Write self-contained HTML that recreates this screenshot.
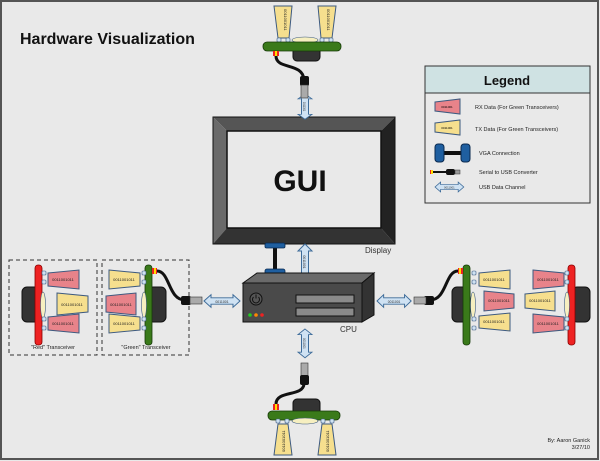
<!DOCTYPE html>
<html><head><meta charset="utf-8"><style>
html,body{margin:0;padding:0;background:#e9e9e9;}
svg{display:block;font-family:"Liberation Sans",sans-serif;}
</style></head><body>
<svg width="600" height="461" viewBox="0 0 600 461" xmlns="http://www.w3.org/2000/svg">
<defs>
<g id="arrH">
<polygon points="0,0 7,-7 7,-3.5 29,-3.5 29,-7 36,0 29,7 29,3.5 7,3.5 7,7" fill="#cfe2f3" stroke="#3d6b99" stroke-width="1"/>
<text x="18" y="2" font-size="3.5" text-anchor="middle" fill="#333">0011001</text>
</g>
</defs>
<rect x="1" y="1" width="597" height="458" fill="#e9e9e9" stroke="#555" stroke-width="2"/>
<text x="20" y="44" font-size="16" font-weight="bold" fill="#111">Hardware Visualization</text>

<!-- Monitor -->
<polygon points="213,117 395,117 381,131 227,131" fill="#555"/>
<polygon points="213,117 227,131 227,228 213,244" fill="#6a6a6a"/>
<polygon points="395,117 395,244 381,228 381,131" fill="#222"/>
<polygon points="213,244 395,244 381,228 227,228" fill="#333"/>
<rect x="213" y="117" width="182" height="127" fill="none" stroke="#111" stroke-width="1"/>
<rect x="227" y="131" width="154" height="97" fill="#e9e9e9" stroke="#111" stroke-width="1.5"/>
<text x="300" y="191" font-size="30" font-weight="bold" text-anchor="middle" fill="#111">GUI</text>
<text x="365" y="253" font-size="8" fill="#333">Display</text>

<!-- VGA -->
<rect x="273" y="246" width="4" height="24" fill="#111"/>
<rect x="265" y="243" width="20" height="5" rx="1.5" fill="#1f5fa0" stroke="#0a2a50" stroke-width="0.8"/>
<rect x="265" y="269" width="20" height="7" rx="2" fill="#1f5fa0" stroke="#0a2a50" stroke-width="0.8"/>

<!-- vertical arrows -->
<use href="#arrH" transform="translate(305,244) rotate(90)"/>
<use href="#arrH" transform="translate(305,94) rotate(90) scale(0.7,1)"/>
<use href="#arrH" transform="translate(305,329) rotate(90) scale(0.8,1)"/>
<!-- horizontal arrows -->
<use href="#arrH" transform="translate(204,301) scale(1,0.9)"/>
<use href="#arrH" transform="translate(377,301) scale(0.95,0.9)"/>

<!-- CPU -->
<polygon points="243,283 257,273 374,273 362,283" fill="#6a6a6a" stroke="#111" stroke-width="1"/>
<polygon points="362,283 374,273 374,315 362,322" fill="#333" stroke="#111" stroke-width="1"/>
<rect x="243" y="283" width="119" height="39" fill="#4a4a4a" stroke="#111" stroke-width="1"/>
<circle cx="256" cy="299" r="6" fill="#555" stroke="#111" stroke-width="1"/>
<path d="M253.5,297 a3.5,3.5 0 1,0 5,0 M256,294.5 v4" fill="none" stroke="#111" stroke-width="1"/>
<rect x="296" y="295" width="58" height="8" fill="#8a8a8a" stroke="#111" stroke-width="1"/>
<rect x="296" y="308" width="58" height="8" fill="#8a8a8a" stroke="#111" stroke-width="1"/>
<circle cx="250" cy="315" r="1.8" fill="#2c2"/>
<circle cx="256" cy="315" r="1.8" fill="#f80"/>
<circle cx="262" cy="315" r="1.8" fill="#e22"/>
<text x="340" y="332" font-size="8" fill="#333">CPU</text>

<!-- Legend -->
<rect x="425" y="66" width="165" height="137" fill="#e9e9e9" stroke="#333" stroke-width="1"/>
<rect x="425" y="66" width="165" height="27" fill="#cfe2e3" stroke="#333" stroke-width="1"/>
<text x="507" y="85" font-size="13" font-weight="bold" text-anchor="middle" fill="#111">Legend</text>
<polygon points="435,102 460,99 460,114 435,111" fill="#e8838a" stroke="#3d5a80"/>
<text x="447" y="108" font-size="3" text-anchor="middle">0011001</text>
<text x="475" y="109" font-size="5.5" fill="#222">RX Data (For Green Transceivers)</text>
<polygon points="435,123 460,120 460,135 435,132" fill="#f6df8e" stroke="#3d5a80"/>
<text x="447" y="129" font-size="3" text-anchor="middle">0011001</text>
<text x="475" y="131" font-size="5.5" fill="#222">TX Data (For Green Transceivers)</text>
<rect x="443" y="151" width="26" height="4" fill="#111"/>
<rect x="435" y="144" width="9" height="18" rx="3" fill="#1f5fa0" stroke="#0a2a50"/>
<rect x="461" y="144" width="9" height="18" rx="3" fill="#1f5fa0" stroke="#0a2a50"/>
<text x="479" y="155" font-size="5.5" fill="#222">VGA Connection</text>
<rect x="430" y="170" width="3" height="4" fill="#e22"/><rect x="431" y="170" width="2" height="4" fill="#fd0"/>
<rect x="433" y="171" width="14" height="2" fill="#111"/>
<rect x="446" y="169" width="9" height="6" rx="2" fill="#111"/>
<rect x="455" y="170" width="5" height="4" fill="#999" stroke="#333" stroke-width="0.5"/>
<text x="479" y="174" font-size="5.5" fill="#222">Serial to USB Converter</text>
<use href="#arrH" transform="translate(435,187) scale(0.8,0.7)"/>
<text x="479" y="189" font-size="5.5" fill="#222">USB Data Channel</text>

<!-- Left dashed boxes -->
<rect x="9" y="260" width="88" height="95" fill="none" stroke="#333" stroke-width="1" stroke-dasharray="4,3"/>
<rect x="102" y="260" width="87" height="95" fill="none" stroke="#333" stroke-width="1" stroke-dasharray="4,3"/>
<text x="53" y="349" font-size="5.5" text-anchor="middle" fill="#222">"Red" Transceiver</text>
<text x="146" y="349" font-size="5.5" text-anchor="middle" fill="#222">"Green" Transceiver</text>

<!-- Red transceiver left -->
<rect x="22" y="287" width="18" height="35" rx="5" fill="#333" stroke="#111"/>
<rect x="35" y="265" width="7" height="80" rx="3" fill="#e22" stroke="#800" stroke-width="0.8"/>
<ellipse cx="43" cy="305" rx="2.5" ry="13" fill="#f6efc0" stroke="#3d5a80" stroke-width="0.6"/>
<g fill="#cfe2f3" stroke="#3d5a80" stroke-width="0.6">
<rect x="42" y="271" width="4" height="4" rx="1"/><rect x="42" y="280" width="4" height="4" rx="1"/>
<rect x="42" y="317" width="4" height="4" rx="1"/><rect x="42" y="326" width="4" height="4" rx="1"/></g>
<polygon points="48,273 79,270 79,289 48,286" fill="#e8838a" stroke="#3d5a80"/>
<polygon points="57,293 88,296 88,312 57,315" fill="#f6df8e" stroke="#3d5a80"/>
<polygon points="48,317 79,314 79,333 48,330" fill="#e8838a" stroke="#3d5a80"/>
<g font-size="4" text-anchor="middle" fill="#222">
<text x="63" y="281">0011001011</text><text x="72" y="306">0011001011</text><text x="63" y="325">0011001011</text></g>

<!-- Green transceiver left -->
<rect x="148" y="287" width="18" height="35" rx="5" fill="#333" stroke="#111"/>
<rect x="145" y="265" width="7" height="80" rx="3" fill="#3a7a1a" stroke="#163a08" stroke-width="0.8"/>
<ellipse cx="144" cy="305" rx="2.5" ry="13" fill="#f6efc0" stroke="#3d5a80" stroke-width="0.6"/>
<g fill="#cfe2f3" stroke="#3d5a80" stroke-width="0.6">
<rect x="142" y="271" width="4" height="4" rx="1"/><rect x="142" y="280" width="4" height="4" rx="1"/>
<rect x="142" y="317" width="4" height="4" rx="1"/><rect x="142" y="326" width="4" height="4" rx="1"/></g>
<polygon points="109,270 140,273 140,286 109,289" fill="#f6df8e" stroke="#3d5a80"/>
<polygon points="106,296 136,293 136,315 106,312" fill="#e8838a" stroke="#3d5a80"/>
<polygon points="109,314 140,317 140,330 109,333" fill="#f6df8e" stroke="#3d5a80"/>
<g font-size="4" text-anchor="middle" fill="#222">
<text x="124" y="281">0011001011</text><text x="121" y="306">0011001011</text><text x="124" y="325">0011001011</text></g>
<rect x="152" y="268" width="5" height="6" fill="#e22"/><rect x="154" y="268" width="2" height="6" fill="#fd0"/>
<path d="M157,271 C170,271 168,300 185,300" fill="none" stroke="#111" stroke-width="3"/>
<rect x="181" y="296" width="10" height="9" rx="2" fill="#111"/>
<rect x="190" y="297" width="12" height="7" fill="#aaa" stroke="#333" stroke-width="0.6"/>

<!-- Right green transceiver -->
<rect x="452" y="287" width="18" height="35" rx="5" fill="#333" stroke="#111"/>
<rect x="463" y="265" width="7" height="80" rx="3" fill="#3a7a1a" stroke="#163a08" stroke-width="0.8"/>
<ellipse cx="473" cy="305" rx="2.5" ry="13" fill="#f6efc0" stroke="#3d5a80" stroke-width="0.6"/>
<g fill="#cfe2f3" stroke="#3d5a80" stroke-width="0.6">
<rect x="472" y="271" width="4" height="4" rx="1"/><rect x="472" y="280" width="4" height="4" rx="1"/>
<rect x="472" y="317" width="4" height="4" rx="1"/><rect x="472" y="326" width="4" height="4" rx="1"/></g>
<polygon points="479,273 510,270 510,289 479,286" fill="#f6df8e" stroke="#3d5a80"/>
<polygon points="484,291 514,294 514,308 484,311" fill="#e8838a" stroke="#3d5a80"/>
<polygon points="479,316 510,313 510,331 479,328" fill="#f6df8e" stroke="#3d5a80"/>
<g font-size="4" text-anchor="middle" fill="#222">
<text x="494" y="281">0011001011</text><text x="499" y="302">0011001011</text><text x="494" y="323">0011001011</text></g>
<rect x="458" y="268" width="5" height="6" fill="#e22"/><rect x="459" y="268" width="2" height="6" fill="#fd0"/>
<path d="M458,271 C445,271 447,300 430,300" fill="none" stroke="#111" stroke-width="3"/>
<rect x="424" y="296" width="10" height="9" rx="2" fill="#111"/>
<rect x="414" y="297" width="12" height="7" fill="#aaa" stroke="#333" stroke-width="0.6"/>

<!-- Right red transceiver -->
<rect x="572" y="287" width="18" height="35" rx="5" fill="#333" stroke="#111"/>
<rect x="568" y="265" width="7" height="80" rx="3" fill="#e22" stroke="#800" stroke-width="0.8"/>
<ellipse cx="567" cy="305" rx="2.5" ry="13" fill="#f6efc0" stroke="#3d5a80" stroke-width="0.6"/>
<g fill="#cfe2f3" stroke="#3d5a80" stroke-width="0.6">
<rect x="565" y="271" width="4" height="4" rx="1"/><rect x="565" y="280" width="4" height="4" rx="1"/>
<rect x="565" y="317" width="4" height="4" rx="1"/><rect x="565" y="326" width="4" height="4" rx="1"/></g>
<polygon points="533,270 564,273 564,286 533,289" fill="#e8838a" stroke="#3d5a80"/>
<polygon points="525,294 555,291 555,311 525,308" fill="#f6df8e" stroke="#3d5a80"/>
<polygon points="533,314 564,317 564,330 533,333" fill="#e8838a" stroke="#3d5a80"/>
<g font-size="4" text-anchor="middle" fill="#222">
<text x="548" y="281">0011001011</text><text x="540" y="302">0011001011</text><text x="548" y="325">0011001011</text></g>

<!-- Top transceiver -->
<polygon points="274,6 292,6 289,38 278,38" fill="#f6df8e" stroke="#3d5a80"/>
<polygon points="318,6 336,6 332,38 321,38" fill="#f6df8e" stroke="#3d5a80"/>
<text transform="translate(284,9) rotate(90)" font-size="4" fill="#222">0011001011</text>
<text transform="translate(327,9) rotate(90)" font-size="4" fill="#222">0011001011</text>
<ellipse cx="305" cy="40" rx="13" ry="3" fill="#f6efc0" stroke="#3d5a80" stroke-width="0.6"/>
<g fill="#cfe2f3" stroke="#3d5a80" stroke-width="0.6">
<rect x="277" y="38" width="4" height="4" rx="1"/><rect x="286" y="38" width="4" height="4" rx="1"/>
<rect x="320" y="38" width="4" height="4" rx="1"/><rect x="329" y="38" width="4" height="4" rx="1"/></g>
<path d="M293,50 h27 v7 a4,4 0 0 1 -4,4 h-19 a4,4 0 0 1 -4,-4 z" fill="#333" stroke="#111"/>
<rect x="263" y="42" width="78" height="9" rx="4" fill="#3a7a1a" stroke="#163a08" stroke-width="0.8"/>
<rect x="273" y="51" width="6" height="5" fill="#e22"/><rect x="275" y="51" width="2" height="5" fill="#fd0"/>
<path d="M276,56 C276,70 303,62 304,80" fill="none" stroke="#111" stroke-width="3"/>
<rect x="300" y="76" width="9" height="10" rx="2" fill="#111"/>
<rect x="301" y="85" width="7" height="13" fill="#aaa" stroke="#333" stroke-width="0.6"/>

<!-- Bottom transceiver -->
<rect x="301" y="363" width="7" height="13" fill="#aaa" stroke="#333" stroke-width="0.6"/>
<rect x="300" y="375" width="9" height="10" rx="2" fill="#111"/>
<path d="M304,384 C303,397 276,390 276,404" fill="none" stroke="#111" stroke-width="3"/>
<rect x="273" y="404" width="6" height="6" fill="#e22"/><rect x="275" y="404" width="2" height="6" fill="#fd0"/>
<path d="M293,412 v-9 a4,4 0 0 1 4,-4 h19 a4,4 0 0 1 4,4 v9 z" fill="#333" stroke="#111"/>
<rect x="268" y="411" width="72" height="9" rx="4" fill="#3a7a1a" stroke="#163a08" stroke-width="0.8"/>
<ellipse cx="305" cy="421" rx="13" ry="3" fill="#f6efc0" stroke="#3d5a80" stroke-width="0.6"/>
<g fill="#cfe2f3" stroke="#3d5a80" stroke-width="0.6">
<rect x="276" y="419" width="4" height="4" rx="1"/><rect x="285" y="419" width="4" height="4" rx="1"/>
<rect x="321" y="419" width="4" height="4" rx="1"/><rect x="330" y="419" width="4" height="4" rx="1"/></g>
<polygon points="278,424 288,424 292,455 274,455" fill="#f6df8e" stroke="#3d5a80"/>
<polygon points="322,424 332,424 336,455 318,455" fill="#f6df8e" stroke="#3d5a80"/>
<text transform="translate(285,452) rotate(-90)" font-size="4" fill="#222">0011001011</text>
<text transform="translate(329,452) rotate(-90)" font-size="4" fill="#222">0011001011</text>

<text x="590" y="442" font-size="5.5" text-anchor="end" fill="#222">By: Aaron Ganick</text>
<text x="590" y="449" font-size="5.5" text-anchor="end" fill="#222">3/27/10</text>
</svg>
</body></html>
